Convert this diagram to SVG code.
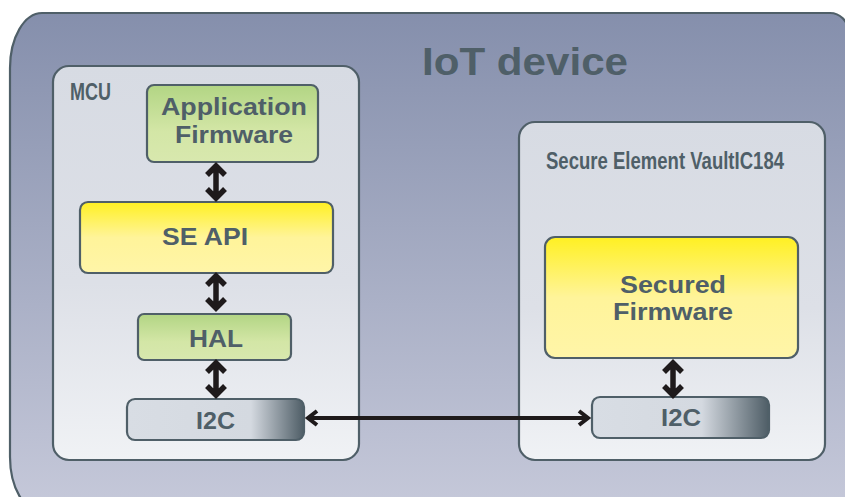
<svg xmlns="http://www.w3.org/2000/svg" width="845" height="497" viewBox="0 0 845 497">
<defs>
<linearGradient id="gOuter" x1="0" y1="0" x2="0" y2="1">
<stop offset="0" stop-color="#858fac"/><stop offset="1" stop-color="#c6c9da"/>
</linearGradient>
<linearGradient id="gPanel" x1="0" y1="0" x2="0" y2="1">
<stop offset="0" stop-color="#d7dbe3"/><stop offset="0.55" stop-color="#dde0e7"/><stop offset="1" stop-color="#f0f2f5"/>
</linearGradient>
<linearGradient id="gGreen" x1="0" y1="0" x2="0" y2="1">
<stop offset="0" stop-color="#b2d584"/><stop offset="0.6" stop-color="#d3e6a6"/><stop offset="1" stop-color="#d8e8ae"/>
</linearGradient>
<linearGradient id="gYellow" x1="0" y1="0" x2="0" y2="1">
<stop offset="0" stop-color="#fff022"/><stop offset="0.5" stop-color="#fff49a"/><stop offset="1" stop-color="#fff5a8"/>
</linearGradient>
<linearGradient id="gI2CL" x1="0" y1="0" x2="1" y2="0">
<stop offset="0" stop-color="#d8dde4"/><stop offset="0.7" stop-color="#d4d9e0"/><stop offset="1" stop-color="#4e5d66"/>
</linearGradient>
<linearGradient id="gI2CR" x1="0" y1="0" x2="1" y2="0">
<stop offset="0" stop-color="#d8dde4"/><stop offset="0.62" stop-color="#d4d9e0"/><stop offset="1" stop-color="#4e5d66"/>
</linearGradient>
<style>
.box{stroke:#4f5f68;stroke-width:2.2}
.lbl{font-family:"Liberation Sans",Arial,sans-serif;font-weight:bold;fill:#4f5f68;font-size:23px;text-anchor:middle}
.cap{font-family:"Liberation Sans",Arial,sans-serif;font-weight:bold;fill:#4f5f68;font-size:23px}
.arr{fill:none;stroke:#1e1a1b;stroke-width:5.5;stroke-linejoin:miter}
.harr{fill:none;stroke:#1e1a1b;stroke-width:4;stroke-linejoin:miter}
</style>
</defs>

<g id="iot-device">
<path class="box" fill="url(#gOuter)" d="M42,13 H830 A18,18 0 0 1 848,31 V512 H42 A32,55 0 0 1 10,457 V68 A32,55 0 0 1 42,13 Z"/>
<text x="422" y="75" font-family="Liberation Sans,Arial,sans-serif" font-weight="bold" font-size="39" fill="#4f5f68" textLength="206" lengthAdjust="spacingAndGlyphs">IoT device</text>
</g>

<g id="mcu">
<rect class="box" x="53" y="66" width="306" height="394" rx="16" fill="url(#gPanel)"/>
<text class="cap" x="70" y="100" textLength="41" lengthAdjust="spacingAndGlyphs">MCU</text>
</g>

<g id="secure-element">
<rect class="box" x="519" y="122" width="306" height="338" rx="16" fill="url(#gPanel)"/>
<text class="cap" x="546" y="169" textLength="238" lengthAdjust="spacingAndGlyphs">Secure Element VaultIC184</text>
</g>

<g id="app-firmware">
<rect class="box" x="147" y="85" width="171" height="77" rx="7" fill="url(#gGreen)"/>
<text class="lbl" x="234" y="115" textLength="146" lengthAdjust="spacingAndGlyphs">Application</text>
<text class="lbl" x="234" y="143" textLength="118" lengthAdjust="spacingAndGlyphs">Firmware</text>
</g>

<g id="se-api">
<rect class="box" x="80" y="202" width="253" height="71" rx="8" fill="url(#gYellow)"/>
<text class="lbl" x="205" y="245" textLength="86" lengthAdjust="spacingAndGlyphs">SE API</text>
</g>

<g id="hal">
<rect class="box" x="138" y="314" width="153" height="46" rx="6" fill="url(#gGreen)"/>
<text class="lbl" x="216" y="347" textLength="54" lengthAdjust="spacingAndGlyphs">HAL</text>
</g>

<g id="i2c-mcu">
<rect class="box" x="127" y="399" width="177" height="41" rx="8" fill="url(#gI2CL)"/>
<text class="lbl" x="215.5" y="429" textLength="39" lengthAdjust="spacingAndGlyphs">I2C</text>
</g>

<g id="secured-firmware">
<rect class="box" x="545" y="237" width="253" height="121" rx="10" fill="url(#gYellow)"/>
<text class="lbl" x="673" y="293" textLength="106" lengthAdjust="spacingAndGlyphs">Secured</text>
<text class="lbl" x="673" y="320" textLength="120" lengthAdjust="spacingAndGlyphs">Firmware</text>
</g>

<g id="i2c-se">
<rect class="box" x="592" y="397" width="177" height="41" rx="8" fill="url(#gI2CR)"/>
<text class="lbl" x="681" y="426" textLength="40" lengthAdjust="spacingAndGlyphs">I2C</text>
</g>

<g id="connectors">
<path class="arr" d="M216,167 V197 M207,175 L216,166 L225,175 M207,189 L216,198 L225,189"/>
<path class="arr" d="M216,277 V307 M207,285 L216,276 L225,285 M207,299 L216,308 L225,299"/>
<path class="arr" d="M216,364 V393 M207,372 L216,363 L225,372 M207,386 L216,395 L225,386"/>
<path class="arr" d="M673,364 V393 M664,372 L673,363 L682,372 M664,386 L673,395 L682,386"/>
<path class="harr" d="M309,418 H587 M317,411 L308,418 L317,425 M579,411 L588,418 L579,425"/>
</g>
</svg>
